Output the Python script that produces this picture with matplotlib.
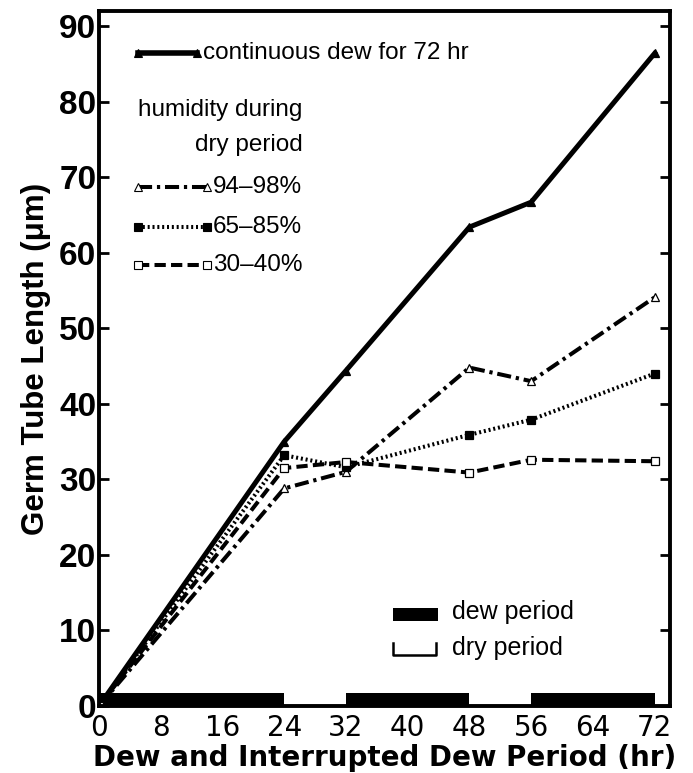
import matplotlib
matplotlib.use('Agg')
import matplotlib.pyplot as plt
import numpy as np

plt.rcParams['font.family'] = ['Liberation Sans', 'DejaVu Sans']

# data
hours = [0, 24, 32, 48, 56, 72]
continuous = [0, 35.0, 44.4, 63.4, 66.7, 86.4]
hum_94_98 = [0, 28.8, 31.0, 44.8, 43.0, 54.1]
hum_65_85 = [0, 33.2, 31.6, 35.9, 37.9, 44.0]
hum_30_40 = [0, 31.5, 32.3, 30.9, 32.6, 32.4]

dew_starts = [0, 32, 56]
dew_ends = [24, 48, 72]
bar_height = 1.7

xticks = [0, 8, 16, 24, 32, 40, 48, 56, 64, 72]
yticks = [0, 10, 20, 30, 40, 50, 60, 70, 80, 90]

figure = plt.figure(figsize=(6.93, 7.73), dpi=100)
axes = figure.add_axes([0.1429, 0.0867, 0.824, 0.899])

styles = [
    (continuous, '-', '^', 'k', 3.6),
    (hum_94_98, (0, (3.5, 1.2, 0.8, 1.2)), '^', 'w', 2.9),
    (hum_65_85, (0, (0.5, 0.7)), 's', 'k', 2.9),
    (hum_30_40, (0, (2.8, 1.3)), 's', 'w', 2.9),
]
for ys, ls, mk, fc, lw in styles:
    axes.plot(hours, ys, color='k', linestyle=ls, linewidth=lw,
              marker=mk, markersize=6, markerfacecolor=fc,
              markeredgecolor='k', markeredgewidth=0.9)

# dew / dry period bar along the bottom
for s, e in zip(dew_starts, dew_ends):
    axes.fill_between([s, e], 0, bar_height, color='k', linewidth=0)

axes.set_xlim(0, 74)
axes.set_ylim(0, 92)
axes.set_xticks(xticks)
axes.set_yticks(yticks)
axes.tick_params(axis='both', direction='in', width=2, length=7)
axes.tick_params(axis='y', right=True, labelsize=24, pad=2)
axes.tick_params(axis='x', labelsize=20, pad=6, length=0)
for lab in axes.get_yticklabels():
    lab.set_fontweight('bold')
for lab in axes.get_xticklabels():
    lab.set_family('DejaVu Sans')
for sp in axes.spines.values():
    sp.set_linewidth(2.8)

axes.set_ylabel('Germ Tube Length (\u03bcm)', fontsize=22.5, fontweight='bold', labelpad=6)
axes.set_xlabel('Dew and Interrupted Dew Period (hr)', fontsize=20, fontweight='bold',
                family='DejaVu Sans', labelpad=1)

# legend drawn by hand
T = axes.transAxes
fs = 17.5
def sample(y, x1, ls, mk, fc, lw):
    axes.plot([0.068, x1], [y, y], transform=T, color='k', linestyle=ls,
              linewidth=lw, marker=mk, markersize=6, markerfacecolor=fc,
              markeredgecolor='k', markeredgewidth=0.8, clip_on=False)

sample(0.94, 0.172, '-', '^', 'k', 4)
axes.text(0.182, 0.94, 'continuous dew for 72 hr', transform=T, fontsize=fs, va='center')
axes.text(0.068, 0.858, 'humidity during', transform=T, fontsize=fs, va='center')
axes.text(0.357, 0.807, 'dry period', transform=T, fontsize=fs, va='center', ha='right')
labels = ['94\u201398%', '65\u201385%', '30\u201340%']
ys = [0.747, 0.689, 0.635]
for (d, ls, mk, fc, lw), lab, y in zip(styles[1:], labels, ys):
    sample(y, 0.189, ls, mk, fc, 2.9)
    axes.text(0.2, y, lab, transform=T, fontsize=fs, va='center')

axes.fill_between([0.515, 0.594], 0.122, 0.141, transform=T, color='k', linewidth=0)
axes.text(0.618, 0.135, 'dew period', transform=T, fontsize=18, va='center')
axes.plot([0.515, 0.515, 0.59, 0.59], [0.091, 0.073, 0.073, 0.091], transform=T,
          color='k', linewidth=1.8)
axes.text(0.618, 0.083, 'dry period', transform=T, fontsize=18, va='center')

figure.savefig('out.png', dpi=100)
